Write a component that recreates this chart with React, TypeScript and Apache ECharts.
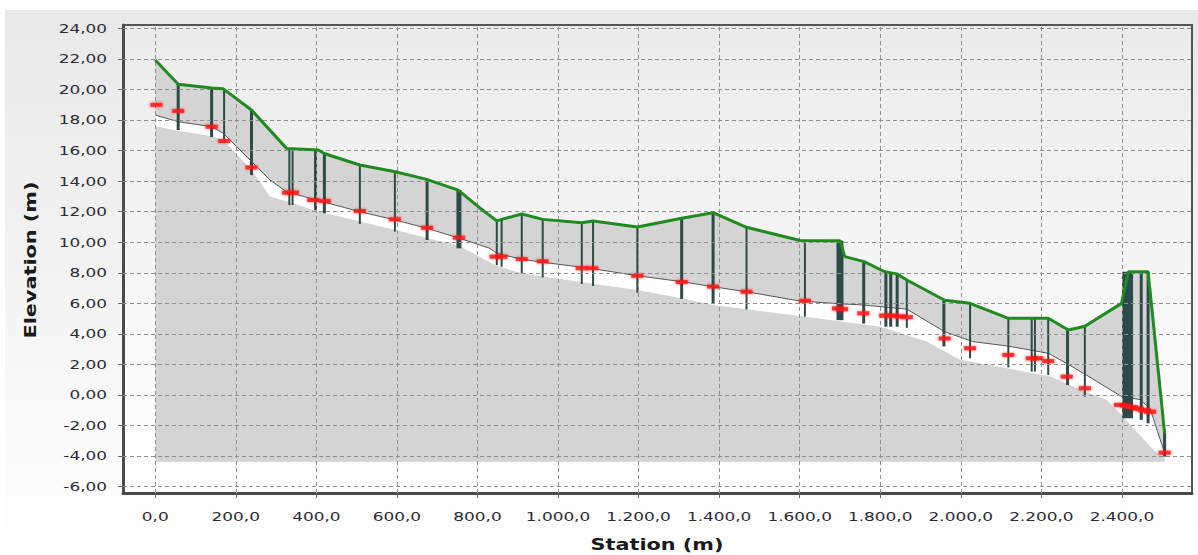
import React, { useEffect, useRef } from "react";
import * as echarts from "echarts";

// ---- axis ticks ----
const xTicks = [0, 200, 400, 600, 800, 1000, 1200, 1400, 1600, 1800, 2000, 2200, 2400];
const yTicks = [-6, -4, -2, 0, 2, 4, 6, 8, 10, 12, 14, 16, 18, 20, 22, 24];

// ---- ground (terrain) profile ----
const groundX = [0, 57, 140, 169, 239, 326, 405, 421, 508, 596, 674, 752, 802, 848, 860, 910, 962, 1059, 1087, 1197, 1307, 1385, 1468, 1601, 1700, 1712, 1760, 1811, 1841, 1866, 1960, 2023, 2118, 2217, 2267, 2308, 2399, 2416, 2465, 2506];
const groundY = [21.94, 20.35, 20.1, 20.05, 18.66, 16.15, 16.04, 15.8, 15.06, 14.62, 14.12, 13.42, 12.33, 11.4, 11.5, 11.85, 11.5, 11.28, 11.4, 11.0, 11.57, 11.94, 10.98, 10.12, 10.1, 9.06, 8.73, 8.07, 7.93, 7.53, 6.2, 6.0, 5.02, 5.02, 4.26, 4.5, 6.0, 8.07, 8.07, -2.5];

// ---- pipe invert line ----
const pipeX = [0, 57, 140, 169, 285, 326, 400, 508, 596, 674, 756, 831, 848, 910, 962, 1079, 1197, 1307, 1385, 1468, 1601, 1695, 1758, 1866, 1960, 2031, 2118, 2217, 2267, 2312, 2399, 2445, 2470, 2506];
const pipeY = [18.33, 17.9, 17.57, 17.14, 14.08, 13.31, 12.77, 12.0, 11.46, 10.92, 10.26, 9.6, 9.28, 8.89, 8.69, 8.3, 7.81, 7.42, 7.09, 6.76, 6.15, 5.98, 5.89, 5.62, 4.14, 3.49, 3.2, 2.73, 2.0, 1.3, -0.1, -0.3, -0.9, -3.8];

// ---- lower boundary (trench bottom) ----
const rockX = [0, 57, 140, 169, 240, 285, 335, 400, 596, 756, 802, 848, 910, 1079, 1197, 1307, 1385, 1601, 1800, 1915, 1998, 2114, 2225, 2299, 2362, 2399, 2478, 2506];
const rockY = [17.6, 17.3, 16.95, 16.7, 14.7, 13.0, 12.6, 12.05, 10.8, 9.75, 9.1, 8.45, 7.97, 7.31, 6.87, 6.33, 5.89, 5.18, 4.47, 3.5, 2.3, 1.75, 1.2, 0.33, -0.33, -1.3, -3.6, -4.15];
const baseLevel = -4.38;

// ---- manholes ----
const mhStation = [57, 140, 171, 239, 333, 341, 398, 420, 508, 595, 675, 754, 848, 860, 910, 962, 1059, 1087, 1197, 1307, 1385, 1468, 1613, 1700, 1759, 1814, 1826, 1842, 1866, 1958, 2023, 2118, 2176, 2184, 2217, 2265, 2308, 2414, 2448, 2465, 2506];
const mhTop = [20.35, 20.1, 20.05, 18.66, 16.1, 16.1, 16.04, 15.85, 15.06, 14.62, 14.12, 13.42, 11.4, 11.5, 11.85, 11.5, 11.28, 11.4, 11.0, 11.57, 11.94, 10.98, 10.1, 10.1, 8.73, 8.07, 8.0, 7.93, 7.53, 6.2, 6.0, 5.02, 5.02, 5.02, 5.02, 4.26, 4.47, 8.07, 8.07, 8.07, -2.5];
const mhBottom = [17.35, 16.9, 16.7, 14.4, 12.44, 12.44, 12.1, 11.9, 11.2, 10.7, 10.15, 9.6, 8.5, 8.4, 7.97, 7.7, 7.27, 7.14, 6.7, 6.29, 6.0, 5.6, 5.13, 4.9, 4.68, 4.47, 4.47, 4.47, 4.4, 3.18, 2.4, 1.81, 1.53, 1.53, 1.31, 0.65, -0.11, -1.53, -1.63, -1.85, -4.04];
const mhType = ["n", "n", "thin", "n", "thin", "thin", "n", "n", "thin", "thin", "n", "thick", "thin", "thin", "thin", "thin", "thin", "thin", "thin", "n", "n", "thin", "thin", "wide", "n", "n", "n", "n", "thin", "n", "thin", "thin", "thin", "thin", "thin", "n", "thin", "block", "n", "n", "n"];

// ---- water level markers ----
const wlStation = [3, 57, 140, 171, 239, 330, 342, 392, 421, 508, 595, 675, 754, 845, 860, 910, 962, 1059, 1085, 1197, 1307, 1385, 1468, 1613, 1695, 1705, 1758, 1812, 1830, 1848, 1866, 1960, 2023, 2118, 2176, 2190, 2217, 2263, 2308, 2395, 2410, 2425, 2440, 2455, 2470, 2506];
const wlLevel = [19.0, 18.6, 17.57, 16.63, 14.9, 13.25, 13.25, 12.77, 12.7, 12.05, 11.5, 10.95, 10.3, 9.06, 9.06, 8.9, 8.75, 8.3, 8.3, 7.8, 7.4, 7.1, 6.76, 6.17, 5.67, 5.62, 5.35, 5.2, 5.2, 5.15, 5.1, 3.7, 3.06, 2.62, 2.4, 2.4, 2.22, 1.2, 0.44, -0.65, -0.7, -0.8, -0.9, -1.0, -1.1, -3.78];

const X_MIN = -80;
const X_MAX = 2574;
const Y_MIN = -6.42;
const Y_MAX = 24.23;

const zip = (a: number[], b: number[]) => a.map((v, i) => [v, b[i]]);
const fmtY = (v: number) => v.toFixed(2).replace(".", ",");
const fmtX = (v: number) => {
  const [i, d] = v.toFixed(1).split(".");
  return i.replace(/\B(?=(\d{3})+(?!\d))/g, ".") + "," + d;
};
const mhWidth: Record<string, number> = { thin: 2, n: 3, thick: 5, wide: 7, block: 11 };

export default function App() {
  const ref = useRef<HTMLDivElement>(null);
  useEffect(() => {
    if (!ref.current) return;
    const chart = echarts.init(ref.current, null, { renderer: "svg" });
    const gray = "#d4d4d4";
    const noSym = { symbol: "none", showSymbol: false };
    const option: any = {
      animation: false,
      backgroundColor: "transparent",
      grid: {
        left: 123,
        top: 25,
        right: 6,
        bottom: 62,
        show: true,
        backgroundColor: new echarts.graphic.LinearGradient(0, 0, 0, 1, [
          { offset: 0, color: "#ebebeb" },
          { offset: 1, color: "#ffffff" },
        ]),
        borderColor: "#555555",
        borderWidth: 2,
      },
      xAxis: {
        type: "value",
        min: X_MIN,
        max: X_MAX,
        splitLine: { show: false },
        axisLine: { show: true, onZero: false, lineStyle: { color: "#4a4a4a", width: 3 } },
        axisTick: { show: true, customValues: xTicks, length: 5, lineStyle: { color: "#666" } },
        axisLabel: { show: false },
      },
      yAxis: {
        type: "value",
        min: Y_MIN,
        max: Y_MAX,
        splitLine: { show: false },
        axisLine: { show: true, onZero: false, lineStyle: { color: "#4a4a4a", width: 3 } },
        axisTick: { show: true, customValues: yTicks, length: 5, lineStyle: { color: "#666" } },
        axisLabel: { show: false },
      },
      series: [
        {
          name: "groundFill", type: "line", ...noSym, z: 1, silent: true,
          data: zip(groundX, groundY),
          lineStyle: { width: 0 },
          areaStyle: { color: gray, opacity: 1, origin: baseLevel },
        },
        {
          name: "trenchFill", type: "line", ...noSym, z: 1, silent: true,
          data: zip(pipeX, pipeY),
          lineStyle: { width: 0 },
          areaStyle: { color: "#ffffff", opacity: 1, origin: baseLevel },
        },
        {
          name: "rockFill", type: "line", ...noSym, z: 1, silent: true,
          data: zip(rockX, rockY),
          lineStyle: { width: 0 },
          areaStyle: { color: gray, opacity: 1, origin: baseLevel },
        },
        {
          name: "grid", type: "line", ...noSym, z: 2, silent: true, data: [],
          markLine: {
            silent: true, symbol: "none", label: { show: false },
            lineStyle: { type: [4, 3], color: "#8f8f8f", width: 1 },
            data: [
              ...xTicks.map((v) => ({ xAxis: v })),
              ...yTicks.map((v) => ({ yAxis: v })),
            ],
          },
        },
        {
          name: "pipe", type: "line", ...noSym, z: 3, silent: true,
          data: zip(pipeX, pipeY),
          lineStyle: { color: "#555555", width: 1 },
        },
        {
          name: "manholes", type: "custom", z: 4, silent: true,
          data: mhStation.map((s, i) => [s, mhTop[i], mhBottom[i]]),
          encode: { x: 0, y: [1, 2] },
          renderItem: (params: any, api: any) => {
            const w = mhWidth[mhType[params.dataIndex]];
            const p1 = api.coord([api.value(0), api.value(1)]);
            const p2 = api.coord([api.value(0), api.value(2)]);
            return {
              type: "rect",
              shape: { x: p1[0] - w / 2, y: p1[1], width: w, height: p2[1] - p1[1] },
              style: { fill: "#2c4a48" },
            };
          },
        },
        {
          name: "ground", type: "line", ...noSym, z: 5, silent: true,
          data: zip(groundX, groundY),
          lineStyle: { color: "#1f8a1f", width: 3 },
        },
        {
          name: "water", type: "scatter", z: 6, silent: true,
          symbol: "rect", symbolSize: [12, 4],
          data: zip(wlStation, wlLevel),
          itemStyle: { color: "#ff1a1a", shadowBlur: 3, shadowColor: "rgba(255,0,0,0.8)" },
        },
      ],
    };
    chart.setOption(option);

    const labelFont = '13px "DejaVu Sans", Verdana, sans-serif';
    const elements: any[] = [];
    yTicks.forEach((v) => {
      const p = chart.convertToPixel({ gridIndex: 0 }, [0, v]) as number[];
      elements.push({
        type: "text", x: 107, y: p[1], scaleX: 1.3,
        style: { text: fmtY(v), font: labelFont, fill: "#2a2a35", textAlign: "right", textVerticalAlign: "middle" },
      });
    });
    xTicks.forEach((v) => {
      const p = chart.convertToPixel({ gridIndex: 0 }, [v, 0]) as number[];
      elements.push({
        type: "text", x: p[0], y: 517, scaleX: 1.3,
        style: { text: fmtX(v), font: labelFont, fill: "#2a2a35", textAlign: "center", textVerticalAlign: "middle" },
      });
    });
    elements.push({
      type: "text", x: 657, y: 544, scaleX: 1.3,
      style: { text: "Station (m)", font: 'bold 16px "DejaVu Sans", Verdana, sans-serif', fill: "#1a1a1a", textAlign: "center", textVerticalAlign: "middle" },
    });
    elements.push({
      type: "text", x: 30, y: 260, rotation: Math.PI / 2, scaleX: 1.3,
      style: { text: "Elevation (m)", font: 'bold 16px "DejaVu Sans", Verdana, sans-serif', fill: "#1a1a1a", textAlign: "center", textVerticalAlign: "middle" },
    });
    chart.setOption({ graphic: { elements } });

    return () => chart.dispose();
  }, []);

  return (
    <div style={{ position: "fixed", left: 0, top: 0, width: 1198, height: 555, background: "#ffffff" }}>
      <div
        style={{
          position: "absolute", left: 5, top: 10, right: 0, bottom: 0,
          background: "linear-gradient(#e8e8e8, #ffffff)",
        }}
      />
      <div ref={ref} style={{ position: "absolute", left: 0, top: 0, width: 1198, height: 555 }} />
    </div>
  );
}
